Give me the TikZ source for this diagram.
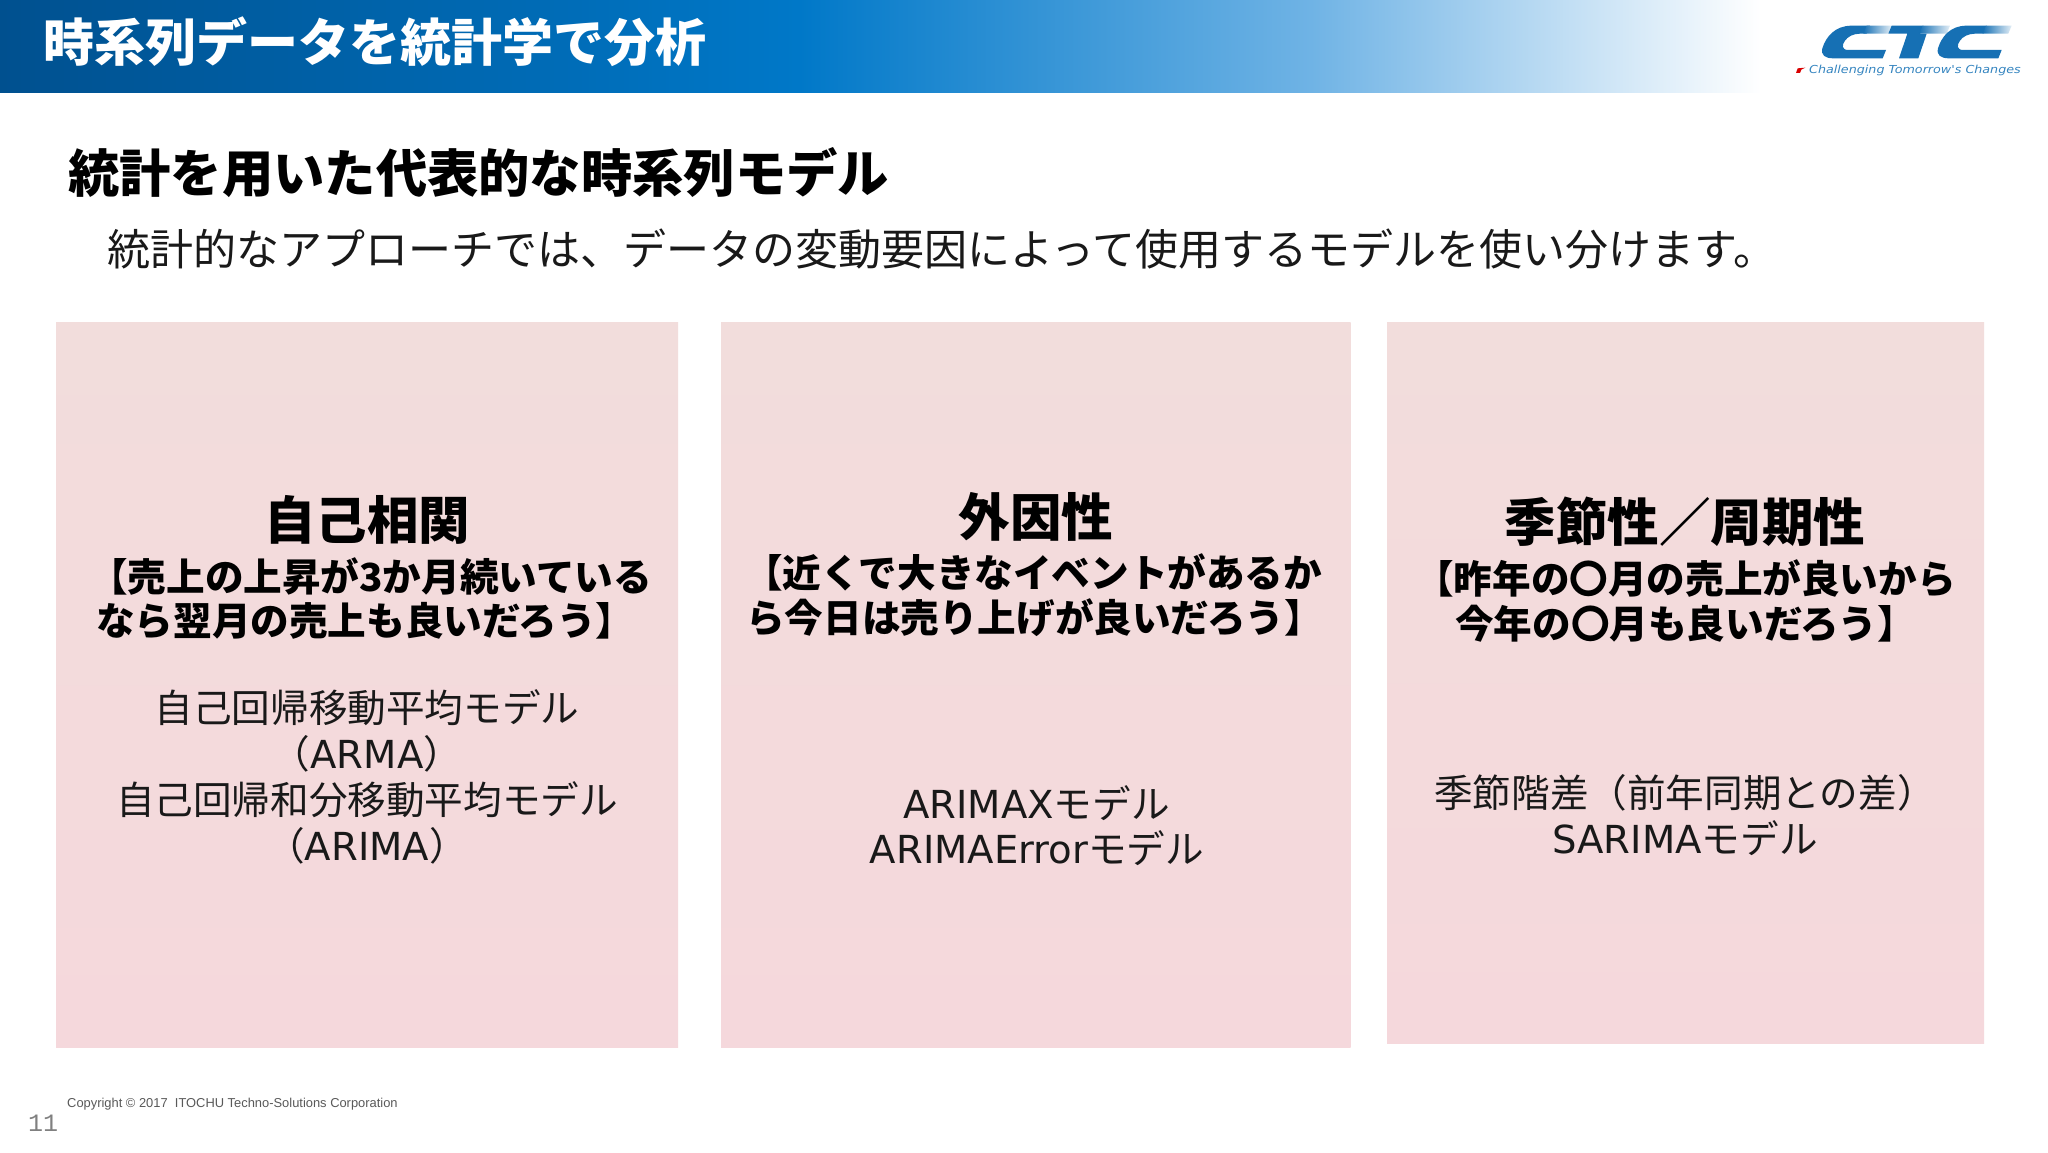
\documentclass[tikz,border=0pt]{standalone}
\usepackage{fontspec}
\setmainfont{Noto Sans CJK JP}
\newfontfamily\latinfoot{Liberation Sans}
\newfontfamily\monofoot{Liberation Mono}
\newfontfamily\tagfont{DejaVu Sans}
\newfontfamily\dv{DejaVu Sans}
\definecolor{c1}{HTML}{00508F}
\definecolor{c2}{HTML}{0078C8}
\definecolor{c3}{HTML}{6FB3E5}
\definecolor{logo}{HTML}{1670B4}
\definecolor{tagc}{HTML}{3585C0}
\pgfdeclarehorizontalshading{hdr}{100bp}{color(0bp)=(c1);color(25bp)=(c1);color(44.5bp)=(c2);color(57bp)=(c3);color(68bp)=(white);color(100bp)=(white)}
\newcommand{\fs}[1]{\fontsize{#1}{#1}\selectfont}
\tikzset{
  x=1pt,y=-1pt,
  panel/.style={draw=none,top color=F2top,bottom color=F2bot},
  heading/.style={font=\fs{51.5}\bfseries,text=black,inner sep=0pt,anchor=center},
  lead/.style={font=\fs{38.6}\bfseries,text=black,inner sep=0pt,anchor=west},
  body/.style={font=\fs{38.6},text=black!90,inner sep=0pt,anchor=center},
}
\definecolor{F2top}{HTML}{F2DDDC}
\definecolor{F2bot}{HTML}{F5D8DC}
\begin{document}
\begin{tikzpicture}
\useasboundingbox (0,0) rectangle (2048,1152);
\fill[white] (0,0) rectangle (2048,1152);
\shade[shading=hdr] (0,0) rectangle (2048,92);
% logo
\begin{scope}[shift={(1700,0)},x=0.3333pt,y=-0.3333pt]
\fill[logo] (510,77) -- (455,77) .. controls (405,77) and (378,110) .. (367,145) .. controls (362,165) and (375,175) .. (400,175) -- (548,175) -- (558,150) -- (445,150) .. controls (425,150) and (425,135) .. (435,122) .. controls (443,110) and (460,101) .. (480,101) -- (500,101) -- cycle;
\shade[left color=logo,right color=logo!12] (500,77) -- (575,77) -- (565,101) -- (490,101) -- cycle;
\fill[logo] (670,77) -- (575,77) -- (565,101) -- (622,101) -- (597,175) -- (655,175) -- (680,101) -- (660,101) -- cycle;
\shade[left color=logo,right color=logo!12] (668,77) -- (750,77) -- (740,101) -- (658,101) -- cycle;
\fill[logo] (860,77) -- (800,77) .. controls (750,77) and (725,110) .. (714,145) .. controls (709,165) and (722,175) .. (747,175) -- (895,175) -- (905,150) -- (790,150) .. controls (770,150) and (770,135) .. (780,122) .. controls (788,110) and (805,101) .. (825,101) -- (850,101) -- cycle;
\shade[left color=logo,right color=logo!12] (858,77) -- (935,77) -- (925,101) -- (848,101) -- cycle;
\fill[red!85!black] (288,219) -- (293,205) -- (316,203) -- (304,209) -- (300,219) -- cycle;
\end{scope}
\node[inner sep=0pt,anchor=west,text=tagc,font=\tagfont\fs{11}\itshape] (tag) at (1809,70) {\scalebox{1.155}[1]{Challenging Tomorrow's Changes}};
% headers
\node[inner sep=0pt,anchor=west,text=white,font=\fs{51}\bfseries] (title) at (43,42) {時系列データを統計学で分析};
\node[inner sep=0pt,anchor=west,text=black,font=\fs{51.3}\bfseries] (sub) at (68,173) {統計を用いた代表的な時系列モデル};
\node[inner sep=0pt,anchor=west,text=black!90,font=\fs{43}] (intro) at (107,249) {統計的なアプローチでは、データの変動要因によって使用するモデルを使い分けます。};
% panels
\path[panel] (56,322.6) rectangle (678,1047.5);
\path[panel] (721,322.6) rectangle (1350.5,1047.5);
\path[panel] (1387,322.6) rectangle (1984,1043.5);
% panel 1
\node[heading] (h1) at (367,519.7) {自己相関};
\node[lead] (l1a) at (89,576) {【売上の上昇が3か月続いている};
\node[lead] (l1b) at (96,620.7) {なら翌月の売上も良いだろう】};
\node[body] (b1a) at (367,708) {自己回帰移動平均モデル};
\node[body] (b1b) at (367,753.5) {（{\dv ARMA}）};
\node[body] (b1c) at (367,799.5) {自己回帰和分移動平均モデル};
\node[body] (b1d) at (367,846) {（{\dv ARIMA}）};
% panel 2
\node[heading] (h2) at (1036,516.4) {外因性};
\node[lead] (l2a) at (744,572.4) {【近くで大きなイベントがあるか};
\node[lead] (l2b) at (746,618) {ら今日は売り上げが良いだろう】};
\node[body] (b2a) at (1036.5,803) {{\dv ARIMAX}モデル};
\node[body] (b2b) at (1037,848) {{\dv ARIMAError}モデル};
% panel 3
\node[heading] (h3) at (1685,521.5) {季節性／周期性};
\node[lead] (l3a) at (1415,578.5) {【昨年の〇月の売上が良いから};
\node[lead] (l3b) at (1455,623.5) {今年の〇月も良いだろう】};
\node[body] (b3a) at (1685,792.5) {季節階差（前年同期との差）};
\node[body] (b3b) at (1685,838) {{\dv SARIMA}モデル};
% footer
\node[inner sep=0pt,anchor=west,text=black!65,font=\latinfoot\fs{12.9}] (copy) at (67,1104) {Copyright © 2017\ \ ITOCHU Techno-Solutions Corporation};
\node[inner sep=0pt,anchor=west,text=black!50,font=\monofoot\fs{25}] (page) at (28,1123) {11};
\end{tikzpicture}
\end{document}
